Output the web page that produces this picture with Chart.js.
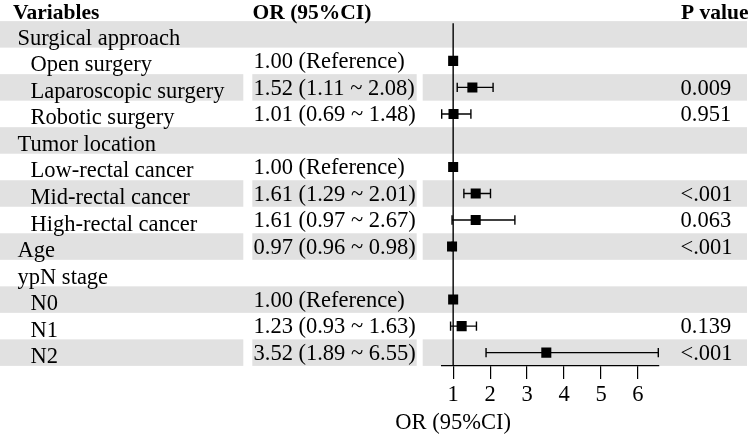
<!DOCTYPE html>
<html>
<head>
<meta charset="utf-8">
<script src="https://cdn.jsdelivr.net/npm/chart.js@4"></script>
<style>
  html, body { margin: 0; padding: 0; background: #fff; }
  canvas { display: block; }
</style>
</head>
<body>
<canvas id="forest" width="751" height="434"></canvas>
<script>
const variables = ['Surgical approach', 'Open surgery', 'Laparoscopic surgery', 'Robotic surgery',
  'Tumor location', 'Low-rectal cancer', 'Mid-rectal cancer', 'High-rectal cancer',
  'Age', 'ypN stage', 'N0', 'N1', 'N2'];
const isGroup = [true, false, false, false, true, false, false, false, true, true, false, false, false];
const orText = ['', '1.00 (Reference)', '1.52 (1.11 ~ 2.08)', '1.01 (0.69 ~ 1.48)',
  '', '1.00 (Reference)', '1.61 (1.29 ~ 2.01)', '1.61 (0.97 ~ 2.67)',
  '0.97 (0.96 ~ 0.98)', '', '1.00 (Reference)', '1.23 (0.93 ~ 1.63)', '3.52 (1.89 ~ 6.55)'];
const orValue = [null, 1.00, 1.52, 1.01, null, 1.00, 1.61, 1.61, 0.97, null, 1.00, 1.23, 3.52];
const ciLow = [null, null, 1.11, 0.69, null, null, 1.29, 0.97, 0.96, null, null, 0.93, 1.89];
const ciHigh = [null, null, 2.08, 1.48, null, null, 2.01, 2.67, 0.98, null, null, 1.63, 6.55];
const pValue = ['', '', '0.009', '0.951', '', '', '<.001', '0.063', '<.001', '', '', '0.139', '<.001'];
const xTicks = [1, 2, 3, 4, 5, 6];
const xMin = 0.69;
const xMax = 6.55;

const FONT = '"Liberation Serif", "Times New Roman", serif';
const SHADE = '#e1e1e1';
// rows shaded across the full width vs. split into the three column cells
const fullRows = [0, 4, 10];
const splitRows = [2, 6, 8, 12];

const markers = [];
orValue.forEach((v, i) => { if (v !== null) markers.push({ x: v, y: i }); });

const ciSets = [];
ciLow.forEach((lo, i) => {
  if (lo === null) return;
  ciSets.push({
    type: 'line',
    data: [{ x: lo, y: i }, { x: ciHigh[i], y: i }],
    borderColor: '#000',
    borderWidth: 1.4,
    pointStyle: 'line',
    pointRotation: 90,
    pointRadius: 4.7,
    pointBorderWidth: 1.4,
    pointBorderColor: '#000',
    clip: 8,
  });
});

const tablePlugin = {
  id: 'table',
  beforeDraw(chart) {
    const { ctx } = chart;
    const y = chart.scales.y;
    ctx.save();
    ctx.fillStyle = SHADE;
    const band = (i, x0, x1) => {
      const top = y.getPixelForValue(i - 0.5);
      const bot = y.getPixelForValue(i + 0.5);
      ctx.fillRect(x0, top, x1 - x0, bot - top);
    };
    fullRows.forEach(i => band(i, 0, 747));
    splitRows.forEach(i => {
      band(i, 0, 243.3);
      band(i, 252.3, 416.7);
      band(i, 422.7, 747);
    });
    ctx.restore();
  },
  afterDraw(chart) {
    const { ctx } = chart;
    const y = chart.scales.y;
    const x = chart.scales.x;
    ctx.save();
    ctx.fillStyle = '#000';
    ctx.textBaseline = 'alphabetic';
    ctx.textAlign = 'left';

    ctx.font = 'bold 21.5px ' + FONT;
    ctx.fillText('Variables', 13, 18.5);
    ctx.fillText('OR (95%CI)', 252.5, 18.5);
    ctx.fillText('P value', 681, 18.5);

    ctx.font = '22.5px ' + FONT;
    variables.forEach((label, i) => {
      const cy = y.getPixelForValue(i);
      ctx.fillText(label, isGroup[i] ? 17.5 : 30.5, cy + 10.5);
      if (orText[i]) ctx.fillText(orText[i], 253.5, cy + 7.3);
      if (pValue[i]) ctx.fillText(pValue[i], 680.5, cy + 7.3);
    });

    ctx.textAlign = 'center';
    ctx.fillText('OR (95%CI)', x.getPixelForValue(1), 429);
    ctx.restore();
  }
};

new Chart(document.getElementById('forest'), {
  type: 'scatter',
  data: {
    datasets: [
      {
        data: markers,
        pointStyle: 'rect',
        pointRadius: 7.1,
        pointBackgroundColor: '#000',
        pointBorderWidth: 0,
        clip: 8,
      },
      ...ciSets,
      {
        type: 'line',
        data: [{ x: 1, y: -0.42 }, { x: 1, y: 12.5 }],
        borderColor: '#000',
        borderWidth: 1.4,
        pointRadius: 0,
      },
    ],
  },
  options: {
    responsive: false,
    animation: false,
    layout: { padding: { left: 441.7, right: 92.7, top: 21.1, bottom: 0 } },
    plugins: { legend: { display: false }, tooltip: { enabled: false } },
    scales: {
      x: {
        type: 'linear',
        min: xMin,
        max: xMax,
        afterBuildTicks: (s) => { s.ticks = xTicks.map(v => ({ value: v })); },
        afterFit: (s) => { s.height = 68.1; },
        grid: { drawOnChartArea: false, drawTicks: true, tickLength: 13, color: '#000', lineWidth: 1.2 },
        border: { display: true, color: '#000', width: 1.3 },
        ticks: { color: '#000', padding: 3, font: { family: FONT, size: 22.5 } },
      },
      y: {
        type: 'linear',
        min: -0.5,
        max: 12.5,
        reverse: true,
        display: false,
      },
    },
  },
  plugins: [tablePlugin],
});
</script>
</body>
</html>
